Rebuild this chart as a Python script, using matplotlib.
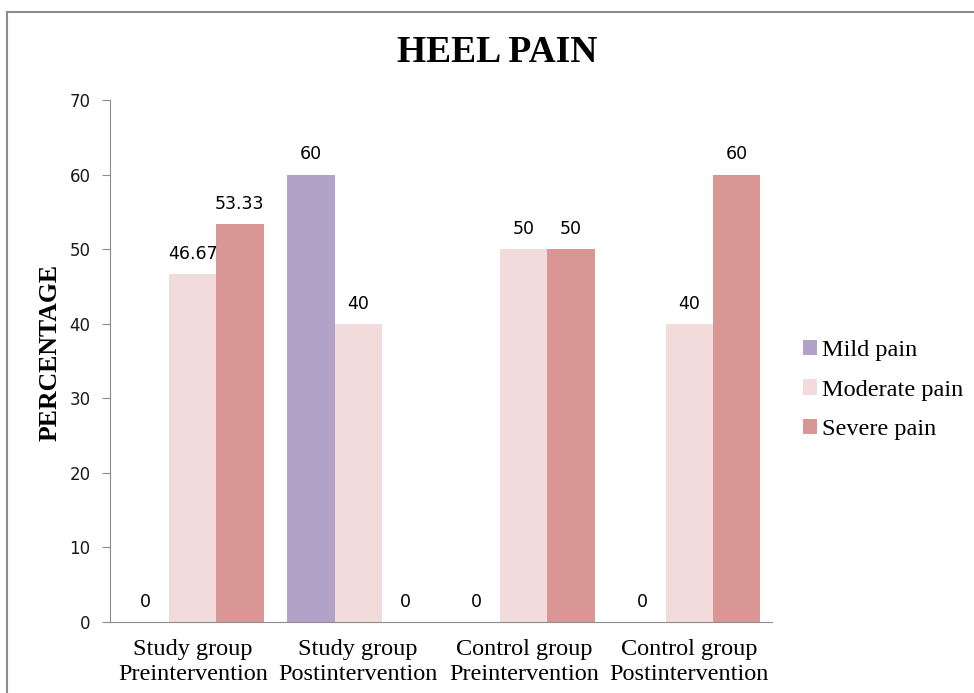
import matplotlib
matplotlib.use("Agg")
import matplotlib.pyplot as plt
import matplotlib.patches as mpatches
import numpy as np

categories = ["Study group\nPreintervention", "Study group\nPostintervention",
              "Control group\nPreintervention", "Control group\nPostintervention"]
series_names = ["Mild pain", "Moderate pain", "Severe pain"]
mild = [0, 60, 0, 0]
moderate = [46.67, 40, 50, 40]
severe = [53.33, 0, 50, 60]
labels_mild = ["0", "60", "0", "0"]
labels_moderate = ["46.67", "40", "50", "40"]
labels_severe = ["53.33", "0", "50", "60"]
colors = ["#B3A2C7", "#F2DCDB", "#D99694"]

fig = plt.figure(figsize=(9.74, 6.93), dpi=100)
ax = fig.add_axes([110/974, 1-622/693, (772-110)/974, (622-100)/693])

# outer frame
fig.patches.append(mpatches.Rectangle((7/974, -0.1), 1.2, 1-12/693+0.1,
                   transform=fig.transFigure, fill=False, edgecolor="#8c8c8c", lw=1.5))

x = np.arange(len(categories))
w = 0.285
all_vals = [mild, moderate, severe]
all_labels = [labels_mild, labels_moderate, labels_severe]
for i, (vals, labs) in enumerate(zip(all_vals, all_labels)):
    pos = x + (i - 1) * w
    ax.bar(pos, vals, width=w, color=colors[i], label=series_names[i])
    for p, v, l in zip(pos, vals, labs):
        ax.text(p, v + 1.5, l, ha="center", va="bottom", fontsize=12.5,
                family="DejaVu Sans", color="#000000")

ax.set_xlim(-0.5, 3.5)
ax.set_ylim(0, 70)
ax.set_yticks(range(0, 71, 10))
ax.set_xticks(x)
ax.set_xticklabels(categories, family="Liberation Serif", fontsize=17.5, linespacing=1.25)
ax.tick_params(axis="x", length=0, pad=12)
ax.tick_params(axis="y", length=6, color="#8c8c8c", labelsize=12, pad=8, labelcolor="#1a1a1a")
for t in ax.get_yticklabels():
    t.set_family("DejaVu Sans")
for s in ["top", "right"]:
    ax.spines[s].set_visible(False)
ax.spines["left"].set_color("#8c8c8c")
ax.spines["bottom"].set_color("#8c8c8c")

ax.set_ylabel("PERCENTAGE", family="Liberation Serif", fontweight="bold", fontsize=18.5)
ax.yaxis.set_label_coords(-48/662, 0.5 + 9/522)

fig.text(497/974, 1-52/693, "HEEL PAIN", family="Liberation Serif", fontweight="bold",
         fontsize=27, ha="center", va="center")

leg = fig.legend(loc="center left", bbox_to_anchor=(781/974, 1-390/693), frameon=False,
                 prop={"family": "Liberation Serif", "size": 17.5}, handlelength=0.6,
                 handleheight=0.6, handletextpad=0.2, labelspacing=0.75)

fig.savefig("out.png", dpi=100)
